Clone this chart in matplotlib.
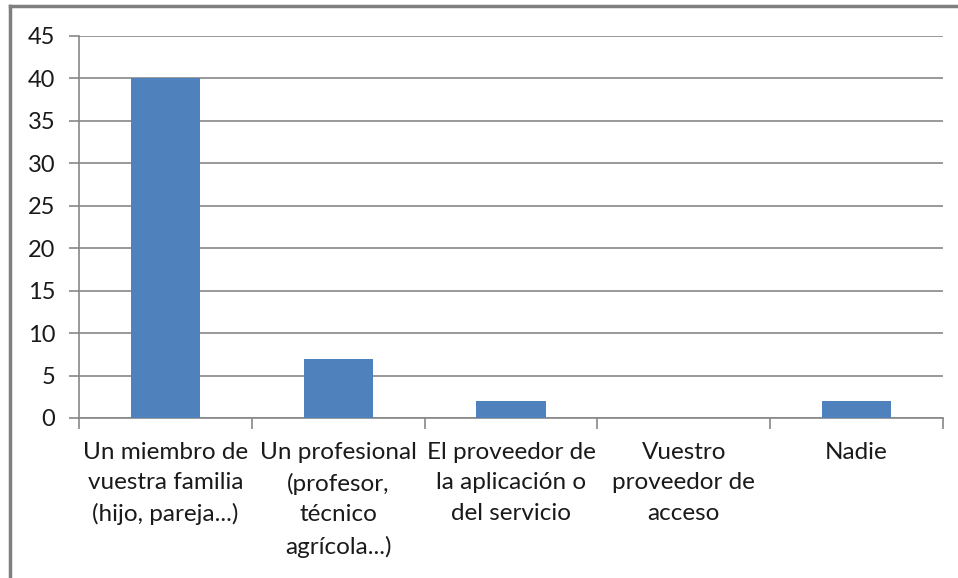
import matplotlib.pyplot as plt
import numpy as np
from matplotlib.lines import Line2D

# categorías y valores
categorias = [
    "Un miembro de\nvuestra familia\n(hijo, pareja...)",
    "Un profesional\n(profesor,\ntécnico\nagrícola...)",
    "El proveedor de\nla aplicación o\ndel servicio",
    "Vuestro\nproveedor de\nacceso",
    "Nadie",
]
valores = [40, 7, 2, 0, 2]
yticks = np.arange(0, 46, 5)

plt.rcParams['font.family'] = ['Lato', 'DejaVu Sans']

fig = plt.figure(figsize=(9.58, 5.78), dpi=100)
ax = fig.add_axes([79 / 958, 160 / 578, 864 / 958, 382 / 578])

x = np.arange(len(categorias))
ax.bar(x, valores, width=0.4, color="#4F81BD", zorder=3)

ax.set_xlim(-0.5, len(categorias) - 0.5)
ax.set_ylim(0, 45)
ax.set_yticks(yticks)
ax.yaxis.grid(True, color="#878787", linewidth=1.2, zorder=0)

ax.set_xticks(x)
ax.set_xticklabels(categorias, fontsize=17.5, color="#1a1a1a", linespacing=1.56)
ax.tick_params(axis="x", length=0, pad=17)
ax.set_xticks(np.arange(-0.5, len(categorias)), minor=True)
ax.tick_params(axis="x", which="minor", length=8, width=1.2, color="#878787")
ax.tick_params(axis="y", length=7, width=1.2, color="#878787", labelsize=17,
               labelcolor="#1a1a1a", pad=10)

for s in ["top", "right"]:
    ax.spines[s].set_visible(False)
for s in ["left", "bottom"]:
    ax.spines[s].set_color("#878787")
    ax.spines[s].set_linewidth(1.2)

# cadre gris autour du graphique
fig.add_artist(Line2D([10 / 958, 1.0], [1 - 6 / 578, 1 - 6 / 578],
                      color="#7f7f7f", linewidth=2.5, transform=fig.transFigure))
fig.add_artist(Line2D([10 / 958, 10 / 958], [0, 1 - 6 / 578],
                      color="#7f7f7f", linewidth=2.5, transform=fig.transFigure))

plt.savefig("out.png", dpi=100)
